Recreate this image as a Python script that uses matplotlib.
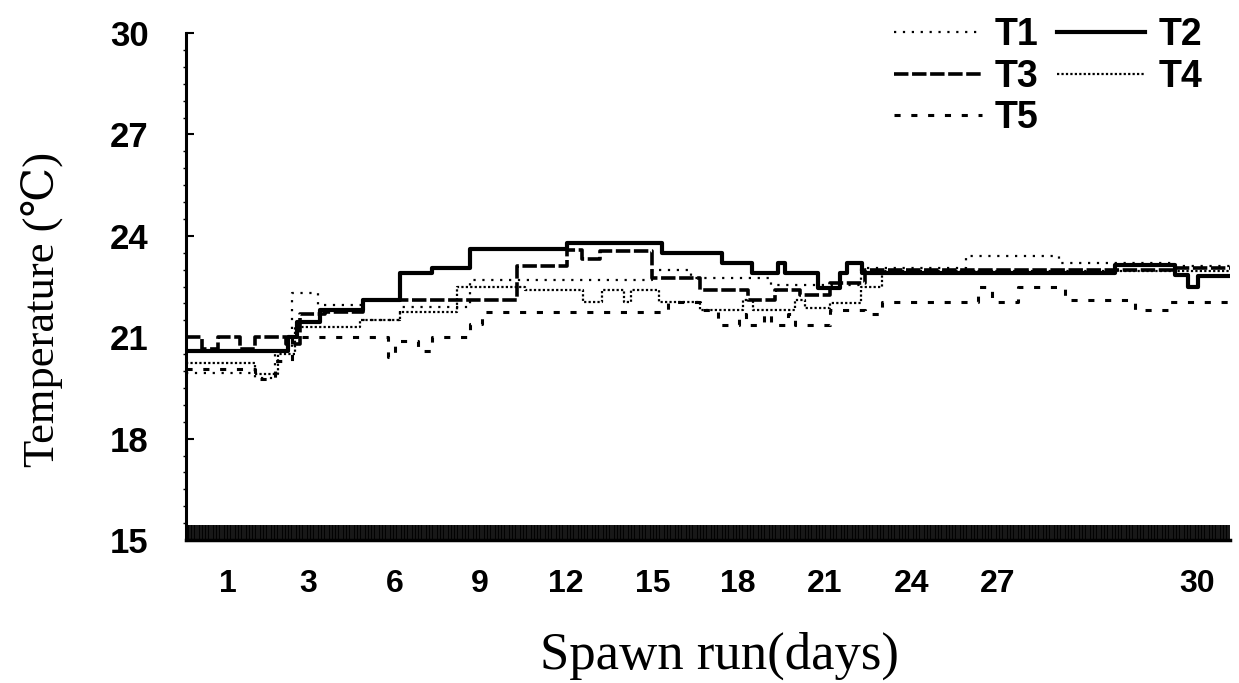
import matplotlib
matplotlib.use("Agg")
import matplotlib.pyplot as plt
from matplotlib.ticker import MultipleLocator, FixedLocator

# ---------------- data ----------------
t1_day = [0, 1.98, 2.56, 3.05, 3.8, 5.09, 6.15, 8.16, 13.4, 14.5, 16.8, 19.4, 22.4, 25.1, 28.42]
t1_temp = [19.95, 19.8, 20.6, 22.3, 21.95, 21.5, 21.9, 22.7, 23.0, 22.75, 22.55, 23.05, 23.4, 23.2, 23.1]

t2_day = [0, 2.93, 3.19, 3.85, 5.09, 6.15, 7.07, 8.16, 10.95, 13.68, 15.4, 16.26, 17.01, 17.21,
          18.16, 18.79, 18.99, 19.43, 26.7, 28.42, 28.8, 29.08]
t2_temp = [20.6, 21.0, 21.45, 21.8, 22.1, 22.9, 23.05, 23.6, 23.8, 23.5, 23.2, 22.9, 23.2, 22.9,
           22.45, 22.9, 23.2, 22.9, 23.15, 22.85, 22.5, 22.8]

t3_day = [0, 0.47, 0.92, 1.55, 1.98, 2.87, 3.28, 4.0, 5.1, 9.5, 10.95, 11.38, 11.9, 13.4,
          14.77, 16.15, 16.93, 17.64, 18.5, 19.5, 28.42]
t3_temp = [21.0, 20.65, 21.0, 20.65, 21.0, 20.8, 21.7, 21.75, 22.1, 23.1, 23.58, 23.3, 23.55, 22.75,
           22.4, 22.1, 22.4, 22.25, 22.6, 23.0, 23.05]

t4_day = [0, 1.98, 2.64, 3.13, 5.0, 6.15, 7.8, 9.74, 11.4, 11.95, 12.6, 12.8, 13.6, 14.77,
          16.0, 16.3, 17.5, 17.8, 18.5, 19.4, 20.0]
t4_temp = [20.25, 19.9, 20.5, 21.3, 21.5, 21.75, 22.5, 22.4, 22.05, 22.4, 22.05, 22.4, 22.05, 21.8,
           22.1, 21.8, 22.1, 21.85, 22.0, 22.5, 22.95]

t5_day = [0, 1.98, 2.56, 3.05, 5.8, 6.0, 6.67, 7.07, 8.16, 8.5, 13.85, 14.77, 15.29, 15.9,
          16.1, 16.6, 16.8, 17.3, 17.5, 18.5, 19.5, 20.0, 22.76, 23.16, 23.9, 25.26, 27.27, 28.28]
t5_temp = [20.05, 19.75, 20.3, 21.0, 20.4, 20.9, 20.6, 21.0, 21.4, 21.75, 22.05, 21.8, 21.35, 21.7,
           21.35, 21.7, 21.35, 21.7, 21.35, 21.8, 21.7, 22.05, 22.5, 22.05, 22.5, 22.1, 21.8, 22.05]

series_names = ["T1", "T2", "T3", "T4", "T5"]
x_tick_labels = ["1", "3", "6", "9", "12", "15", "18", "21", "24", "27", "30"]
y_ticks = [15, 18, 21, 24, 27, 30]

# ---------------- layout / style ----------------
x_tick_pos = [1.21, 3.51, 6.01, 8.45, 10.92, 13.42, 15.86, 18.36, 20.86, 23.31, 29.05]
x_end = 30
styles = {
    "T1": dict(ls=(0, (1, 3)), lw=1.6),
    "T2": dict(ls="-", lw=3.0),
    "T3": dict(ls=(0, (4, 1)), lw=2.6),
    "T4": dict(ls=(0, (1, 1)), lw=1.6),
    "T5": dict(ls=(0, (2, 3.5)), lw=2.2),
}

fig = plt.figure(figsize=(12.39, 6.83), dpi=100)
ax = fig.add_axes([186 / 1239, 1 - 540 / 683, (1230 - 186) / 1239, (540 - 33) / 683])

data = {
    "T1": (t1_day, t1_temp),
    "T2": (t2_day, t2_temp),
    "T3": (t3_day, t3_temp),
    "T4": (t4_day, t4_temp),
    "T5": (t5_day, t5_temp),
}
handles = {}
for name in series_names:
    d, t = data[name]
    xs = list(d) + [x_end]
    ys = list(t) + [t[-1]]
    (h,) = ax.plot(xs, ys, drawstyle="steps-post", color="black", label=name, **styles[name])
    handles[name] = h

ax.set_xlim(0, x_end)
ax.set_ylim(15, 30)

for s in ["top", "right"]:
    ax.spines[s].set_visible(False)
ax.spines["left"].set_linewidth(2.2)
ax.spines["bottom"].set_linewidth(2.5)

tick_font = dict(family=["Liberation Sans", "DejaVu Sans"], weight="bold", size=23)
ytick_font = dict(family=["Liberation Sans", "DejaVu Sans"], weight="bold", size=25)

ax.xaxis.remove_overlapping_locs = False
ax.xaxis.set_major_locator(FixedLocator(x_tick_pos))
ax.set_xticklabels(x_tick_labels, **tick_font)
ax.xaxis.set_minor_locator(MultipleLocator(0.045))
ax.tick_params(axis="x", which="major", length=0, pad=21)
ax.tick_params(axis="x", which="minor", direction="in", length=11, width=1.3)

ax.set_yticks(y_ticks)
ax.set_yticklabels([str(v) for v in y_ticks], **ytick_font)
ax.yaxis.set_minor_locator(MultipleLocator(0.5))
ax.tick_params(axis="y", which="major", direction="in", length=6, width=1.5, pad=27)
ax.tick_params(axis="y", which="minor", direction="out", length=2.5, width=1)

ax.set_ylabel("Temperature (℃)", family=["Liberation Serif", "DejaVu Serif", "DejaVu Sans"], size=32)
ax.yaxis.set_label_coords(-0.117, 0.455)
ax.set_xlabel("Spawn run(days)", family=["Liberation Serif", "DejaVu Serif", "DejaVu Sans"], size=38)
ax.xaxis.set_label_coords(0.511, -0.181)

order = ["T1", "T3", "T5", "T2", "T4"]
leg = ax.legend([handles[n] for n in order], order, ncol=2, frameon=False,
                loc="upper right", bbox_to_anchor=(0.988, 1.061),
                prop=dict(family=["Liberation Sans", "DejaVu Sans"], weight="bold", size=27),
                handlelength=2.35, handletextpad=0.35, columnspacing=0.5,
                labelspacing=0.15, borderaxespad=0)

fig.savefig("out.png", dpi=100, facecolor="white")
